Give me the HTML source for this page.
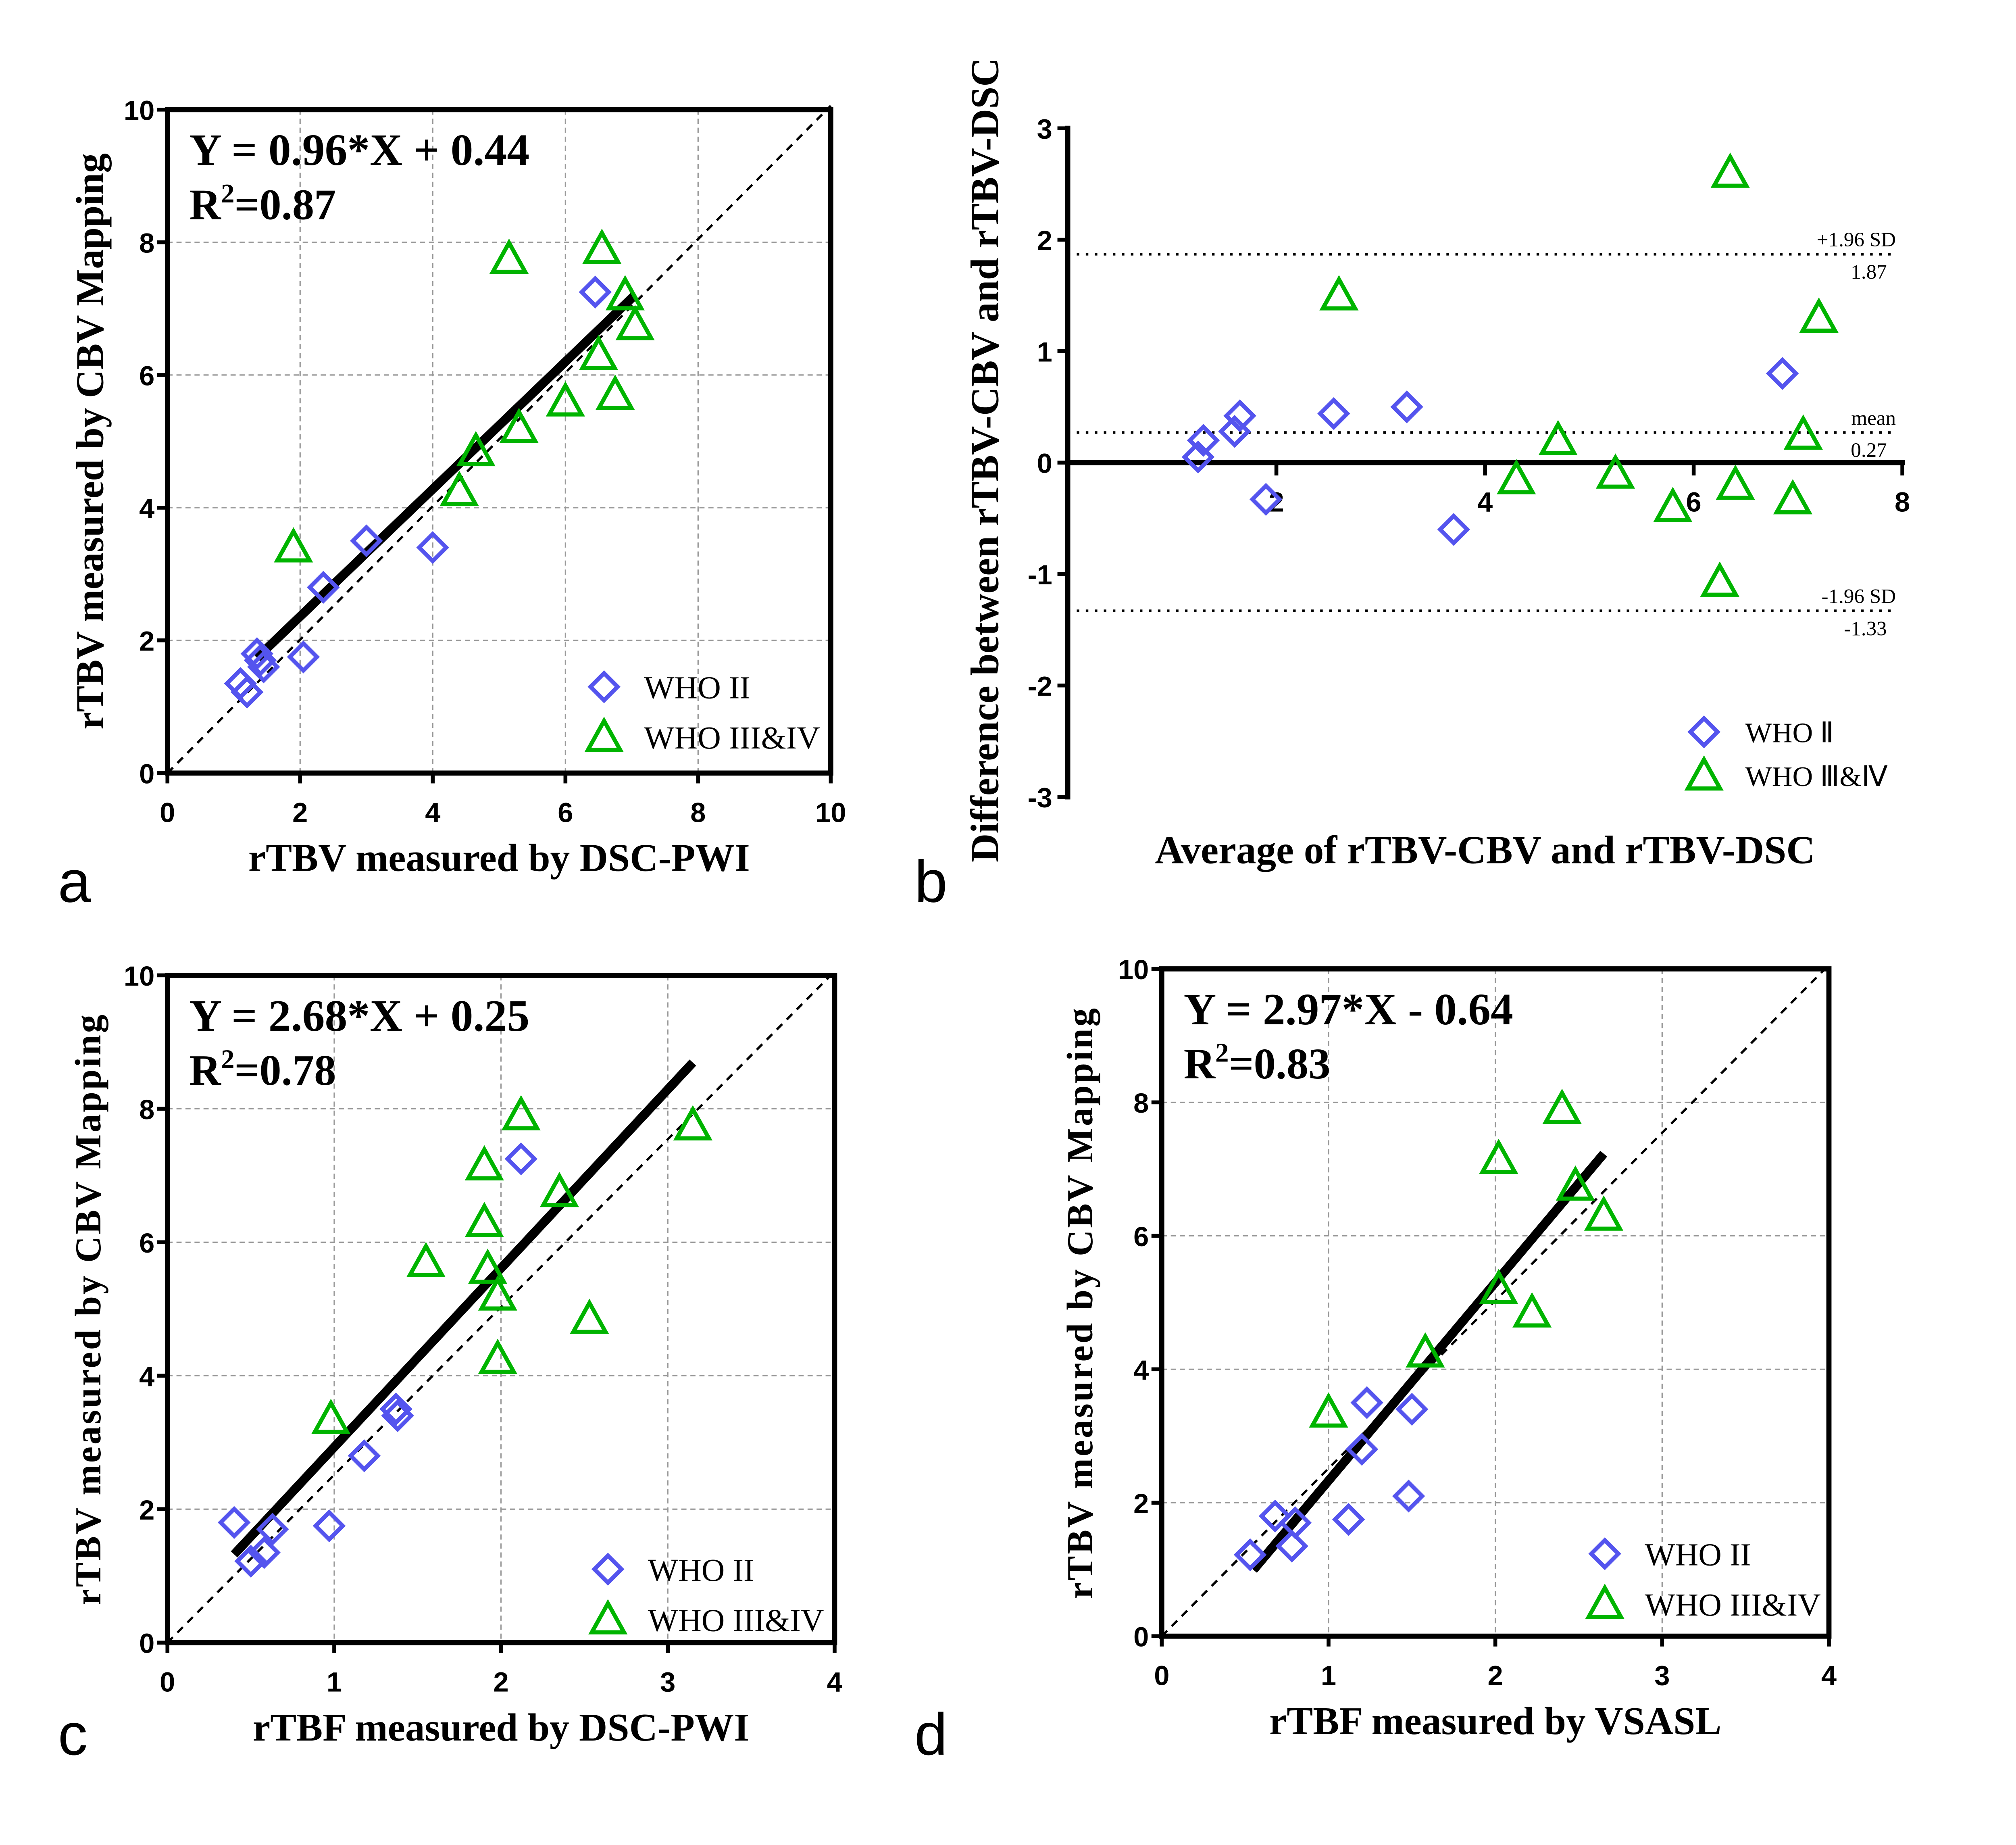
<!DOCTYPE html>
<html><head><meta charset="utf-8"><style>
html,body{margin:0;padding:0;background:#fff}
svg{display:block}
.ser{font-family:"Liberation Serif",serif;font-weight:bold}
.tk{font-family:"Liberation Sans",sans-serif;font-weight:bold;font-size:21.5px}
</style></head><body>
<svg id="fig" width="5111" height="4575" viewBox="0 0 1600 1432" xmlns="http://www.w3.org/2000/svg"></svg>
<script>
// Panel a data
const aIIx=[1.1,1.2,1.35,1.4,1.45,2.05,2.35,3.0,4.0,6.45];
const aIIy=[1.35,1.22,1.8,1.7,1.6,1.75,2.8,3.5,3.4,7.25];
const aIIIx=[1.9,4.4,4.65,5.3,5.15,6.0,6.5,6.55,6.75,6.9,7.05];
const aIIIy=[3.4,4.25,4.85,5.2,7.75,5.6,6.3,7.9,5.7,7.2,6.75];
// Panel b data
const bIIx=[1.25,1.3,1.6,1.65,1.9,2.55,3.25,3.7,6.85];
const bIIy=[0.05,0.2,0.28,0.42,-0.33,0.44,0.5,-0.6,0.8];
const bIIIx=[2.6,4.3,4.7,5.25,5.8,6.25,6.35,6.4,6.95,7.05,7.2];
const bIIIy=[1.5,-0.15,0.2,-0.1,-0.4,-1.07,2.6,-0.2,-0.33,0.25,1.3];
const bLines=[1.87,0.27,-1.33];
// Panel c data
const cIIx=[0.4,0.5,0.58,0.63,0.97,1.18,1.37,1.38,2.12];
const cIIy=[1.8,1.22,1.35,1.7,1.75,2.8,3.5,3.4,7.25];
const cIIIx=[0.98,1.55,1.9,1.9,1.92,1.98,1.98,2.12,2.35,2.53,3.15];
const cIIIy=[3.35,5.7,7.15,6.3,5.6,5.2,4.25,7.9,6.75,4.85,7.75];
// Panel d data
const dIIx=[0.53,0.68,0.78,0.8,1.12,1.2,1.23,1.48,1.5];
const dIIy=[1.22,1.8,1.35,1.7,1.75,2.8,3.5,2.1,3.4];
const dIIIx=[1.0,1.58,2.02,2.02,2.22,2.4,2.48,2.65];
const dIIIy=[3.35,4.25,7.15,5.2,4.85,7.9,6.75,6.3];
const ticksXa=[0,2,4,6,8,10], ticksYa=[0,2,4,6,8,10];
const ticksXc=[0,1,2,3,4];
const ticksXb=[2,4,6,8], ticksYb=[-3,-2,-1,0,1,2,3];

const S=document.getElementById('fig');
const NS='http://www.w3.org/2000/svg';
function mk(tag,attrs,txt){const e=document.createElementNS(NS,tag);for(const k in attrs)e.setAttribute(k,attrs[k]);if(txt!==undefined)e.textContent=txt;S.appendChild(e);return e;}
const BLUE='#5454ee',GREEN='#00b400';
function diamond(x,y,name){const r=10.5;const e=mk('polygon',{points:`${x},${y-r} ${x+r},${y} ${x},${y+r} ${x-r},${y}`,fill:'none',stroke:BLUE,'stroke-width':3.2});

}
function tri(x,y,name){const r=12.5;const e=mk('polygon',{points:`${x},${y-r} ${x+r},${y+r*0.8} ${x-r},${y+r*0.8}`,fill:'none',stroke:GREEN,'stroke-width':3.2});

}

function scatterPanel(o){
  const X=v=>o.x0+(v-o.xmin)/(o.xmax-o.xmin)*(o.x1-o.x0);
  const Y=v=>o.y0-(v)/(10)*(o.y0-o.y1);
  o.xt.slice(1,-1).forEach(t=>{const e=mk('line',{x1:X(t),x2:X(t),y1:o.y1,y2:o.y0,stroke:'#999','stroke-width':1,'stroke-dasharray':'4 3'});
    });
  ticksYa.slice(1,-1).forEach(t=>{const e=mk('line',{x1:o.x0,x2:o.x1,y1:Y(t),y2:Y(t),stroke:'#999','stroke-width':1,'stroke-dasharray':'4 3'});
    });
  const id=mk('line',{x1:X(0),y1:Y(0),x2:X(o.xmax),y2:Y(10)-3,stroke:'#000','stroke-width':1.8,'stroke-dasharray':'6 5'});
  
  const fr=mk('rect',{x:o.x0,y:o.y1,width:o.x1-o.x0,height:o.y0-o.y1,fill:'none',stroke:'#000','stroke-width':4});
  
  o.xt.forEach(t=>{mk('line',{x1:X(t),x2:X(t),y1:o.y0,y2:o.y0+8,stroke:'#000','stroke-width':3});
    const e=mk('text',{x:X(t),y:o.y0+38,'text-anchor':'middle',class:'tk'},t);});
  ticksYa.forEach(t=>{mk('line',{x1:o.x0-8,x2:o.x0,y1:Y(t),y2:Y(t),stroke:'#000','stroke-width':3});
    const e=mk('text',{x:o.x0-10,y:Y(t)+8,'text-anchor':'end',class:'tk'},t);});
  const rg=mk('line',{x1:X(o.r0),y1:Y(o.m*o.r0+o.b),x2:X(o.r1),y2:Y(o.m*o.r1+o.b),stroke:'#000','stroke-width':7});
  
  o.IIx.forEach((v,i)=>diamond(X(v),Y(o.IIy[i]),'who-ii-point'));
  o.IIIx.forEach((v,i)=>tri(X(v),Y(o.IIIy[i]),'who-iii-iv-point'));
  let e=mk('text',{x:o.x0+17,y:o.y1+43,class:'ser','font-size':35},o.eq);
  e=mk('text',{x:o.x0+17,y:o.y1+85,class:'ser','font-size':34});e.innerHTML='R<tspan dy="-13" font-size="21">2</tspan><tspan dy="13">'+o.r2+'</tspan>';
  
  diamond(o.lx,o.ly,'legend-who-ii-marker');tri(o.lx,o.ly+39,'legend-who-iii-iv-marker');
  e=mk('text',{x:o.lx+31,y:o.ly+9,'font-family':'Liberation Serif, serif','font-size':25},'WHO II');
  e=mk('text',{x:o.lx+31,y:o.ly+48,'font-family':'Liberation Serif, serif','font-size':25},'WHO III&IV');
  e=mk('text',{x:(o.x0+o.x1)/2,y:o.y0+76,'text-anchor':'middle',class:'ser','font-size':30.5},o.xl);
  const cy=(o.y0+o.y1)/2;
  e=mk('text',{x:o.ylx,y:cy,'text-anchor':'middle',class:'ser','font-size':o.yfs||30.5,transform:`rotate(-90 ${o.ylx} ${cy})`,'letter-spacing':o.ls||0},'rTBV measured by CBV Mapping');
  e=mk('text',{x:o.px,y:o.py,'font-family':'Liberation Sans, sans-serif','font-size':46},o.p);
}
scatterPanel({x0:130,x1:645,y0:600,y1:85,xmin:0,xmax:10,xt:ticksXa,IIx:aIIx,IIy:aIIy,IIIx:aIIIx,IIIy:aIIIy,m:0.96,b:0.44,r0:1.35,r1:7.05,eq:'Y = 0.96*X + 0.44',r2:'=0.87',lx:469,ly:533,xl:'rTBV measured by DSC-PWI',ylx:80,p:'a',px:45,py:700});
scatterPanel({x0:130,x1:648,y0:1275,y1:757,xmin:0,xmax:4,xt:ticksXc,IIx:cIIx,IIy:cIIy,IIIx:cIIIx,IIIy:cIIIy,m:2.68,b:0.25,r0:0.4,r1:3.15,eq:'Y = 2.68*X + 0.25',r2:'=0.78',lx:472,ly:1218,xl:'rTBF measured by DSC-PWI',ylx:78,p:'c',px:45,py:1362,ls:1.5,yfs:28.5});
scatterPanel({x0:902,x1:1420,y0:1270,y1:752,xmin:0,xmax:4,xt:ticksXc,IIx:dIIx,IIy:dIIy,IIIx:dIIIx,IIIy:dIIIy,m:2.97,b:-0.64,r0:0.55,r1:2.65,eq:'Y = 2.97*X - 0.64',r2:'=0.83',lx:1246,ly:1206,xl:'rTBF measured by VSASL',ylx:848,p:'d',px:710,py:1362,ls:1.5,yfs:28.5});

// Panel b (Bland-Altman)
(function(){
  const x0=829,ux=81,yz=359,uy=86.5;
  const X=v=>x0+v*ux, Y=v=>yz-v*uy;
  let e;
  bLines.forEach((v,i)=>{e=mk('line',{x1:x0,x2:1470,y1:Y(v),y2:Y(v),stroke:'#000','stroke-width':2,'stroke-dasharray':'2 5'});
    });
  const labs=[['+1.96 SD','1.87'],['mean','0.27'],['-1.96 SD','-1.33']];
  bLines.forEach((v,i)=>{
    e=mk('text',{x:1472,y:Y(v)-6,'text-anchor':'end','font-family':'Liberation Serif, serif','font-size':16},labs[i][0]);
    e=mk('text',{x:1465,y:Y(v)+19,'text-anchor':'end','font-family':'Liberation Serif, serif','font-size':16},labs[i][1]);
  });
  e=mk('line',{x1:x0,x2:x0,y1:Y(3)-2,y2:Y(-3)+2,stroke:'#000','stroke-width':4});
  e=mk('line',{x1:x0,x2:X(8)+2,y1:yz,y2:yz,stroke:'#000','stroke-width':4});
  ticksYb.forEach(t=>{mk('line',{x1:x0-8,x2:x0,y1:Y(t),y2:Y(t),stroke:'#000','stroke-width':3});
    e=mk('text',{x:x0-12,y:Y(t)+8,'text-anchor':'end',class:'tk'},t);});
  ticksXb.forEach(t=>{mk('line',{x1:X(t),x2:X(t),y1:yz,y2:yz+10,stroke:'#000','stroke-width':3});
    e=mk('text',{x:X(t),y:yz+38,'text-anchor':'middle',class:'tk'},t);});
  bIIx.forEach((v,i)=>diamond(X(v),Y(bIIy[i]),'who-ii-point'));
  bIIIx.forEach((v,i)=>tri(X(v),Y(bIIIy[i]),'who-iii-iv-point'));
  diamond(1323,568,'legend-who-ii-marker');tri(1323,602,'legend-who-iii-iv-marker');
  e=mk('text',{x:1355,y:576,'font-family':'Liberation Serif, serif','font-size':22},'WHO Ⅱ');
  e=mk('text',{x:1355,y:610,'font-family':'Liberation Serif, serif','font-size':22},'WHO Ⅲ&Ⅳ');
  e=mk('text',{x:1153,y:670,'text-anchor':'middle',class:'ser','font-size':31},'Average of rTBV-CBV and rTBV-DSC');
  e=mk('text',{x:775,y:357,'text-anchor':'middle',class:'ser','font-size':31,transform:'rotate(-90 775 357)'},'Difference between rTBV-CBV and rTBV-DSC');
  e=mk('text',{x:710,y:700,'font-family':'Liberation Sans, sans-serif','font-size':46},'b');
})();
</script>
</body></html>
